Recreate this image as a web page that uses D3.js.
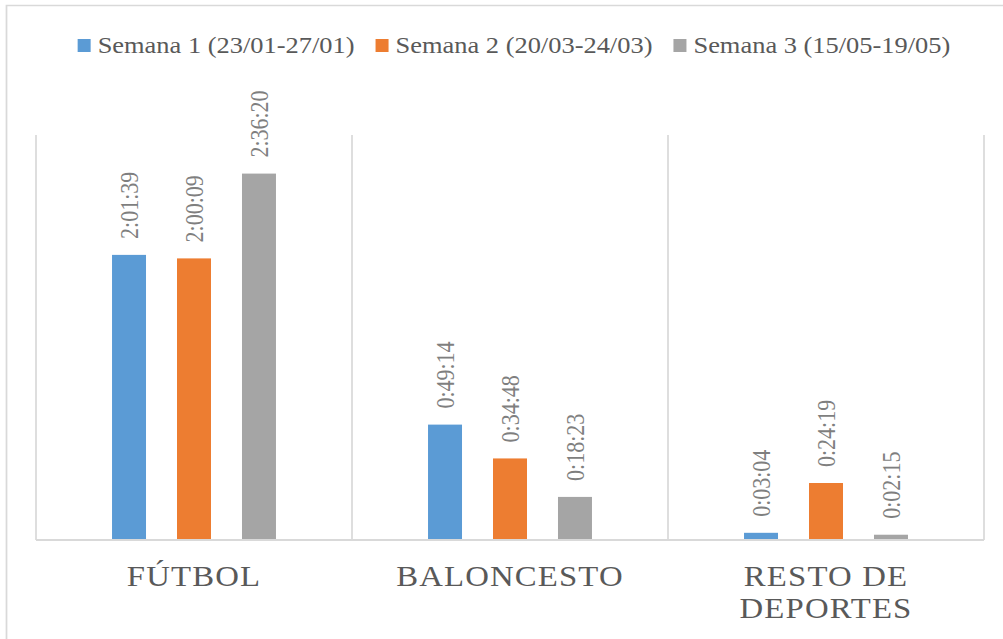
<!DOCTYPE html>
<html>
<head>
<meta charset="utf-8">
<script src="https://cdn.jsdelivr.net/npm/d3@7"></script>
<style>
  body { margin: 0; background: #fff; }
  svg { display: block; }
</style>
</head>
<body>
<svg id="chart"></svg>
<script>
let categories = ['FÚTBOL', 'BALONCESTO', 'RESTO DE\nDEPORTES']
let series = ['Semana 1 (23/01-27/01)', 'Semana 2 (20/03-24/03)', 'Semana 3 (15/05-19/05)']
let colors = ['#5b9bd5', '#ed7d31', '#a5a5a5']
let semana1 = ['2:01:39', '0:49:14', '0:03:04']
let semana2 = ['2:00:09', '0:34:48', '0:24:19']
let semana3 = ['2:36:20', '0:18:23', '0:02:15']
let yMax = 10368 // 0.12 dias, en segundos

let toSeconds = (t) => {
  let p = t.split(':').map(Number)
  return p[0] * 3600 + p[1] * 60 + p[2]
}

let times = [semana1, semana2, semana3]
let rows = []
categories.forEach((c, i) => {
  series.forEach((s, j) => {
    rows.push({cat: c, serie: s, idx: j, label: times[j][i], value: toSeconds(times[j][i])})
  })
})

let width = 1003
let height = 639
// the original picture is a bit stretched horizontally
let stretch = 1.15
let vbWidth = width / stretch
let font = 'Liberation Serif, Times New Roman, serif'

let plotLeft = 36 / stretch
let plotRight = 984 / stretch
let plotTop = 135
let plotBottom = 540

let svg = d3.select('#chart')
  .attr('width', width)
  .attr('height', height)
  .attr('viewBox', '0 0 ' + vbWidth + ' ' + height)
  .attr('preserveAspectRatio', 'none')

// frame
svg.append('rect')
   .attr('x', 6.5 / stretch)
   .attr('y', 5.5)
   .attr('width', vbWidth + 50)
   .attr('height', height + 50)
   .attr('fill', 'none')
   .attr('stroke', '#d9d9d9')
   .attr('stroke-width', 1.5)

let x0 = d3.scaleBand()
           .domain(categories)
           .range([plotLeft, plotRight])
           .padding(0)

let x1 = d3.scaleBand()
           .domain(series)
           .range([0, x0.bandwidth()])
           .paddingInner(0.477)
           .paddingOuter(1.17)

let y = d3.scaleLinear()
          .domain([0, yMax])
          .range([plotBottom, plotTop])

// separators between categories
let edges = categories.map((c) => x0(c)).concat([plotRight])
svg.selectAll('line.sep')
   .data(edges)
   .enter()
   .append('line')
   .attr('class', 'sep')
   .attr('x1', (d) => d)
   .attr('x2', (d) => d)
   .attr('y1', plotTop)
   .attr('y2', plotBottom)
   .attr('stroke', '#d9d9d9')
   .attr('stroke-width', 1.5)

svg.selectAll('rect.bar')
   .data(rows)
   .enter()
   .append('rect')
   .attr('class', 'bar')
   .attr('x', (d) => x0(d.cat) + x1(d.serie))
   .attr('width', x1.bandwidth())
   .attr('y', (d) => y(d.value))
   .attr('height', (d) => plotBottom - y(d.value))
   .attr('fill', (d) => colors[d.idx])

// baseline
svg.append('line')
   .attr('x1', plotLeft)
   .attr('x2', plotRight)
   .attr('y1', plotBottom)
   .attr('y2', plotBottom)
   .attr('stroke', '#d9d9d9')
   .attr('stroke-width', 2)

// data labels
svg.selectAll('text.val')
   .data(rows)
   .enter()
   .append('text')
   .attr('class', 'val')
   .attr('transform', (d) => {
     let cx = x0(d.cat) + x1(d.serie) + x1.bandwidth() / 2
     return 'translate(' + cx + ',' + (y(d.value) - 16) + ') rotate(-90)'
   })
   .attr('dy', '0.35em')
   .attr('text-anchor', 'start')
   .attr('font-family', font)
   .attr('font-size', 22)
   .attr('fill', '#7f7f7f')
   .text((d) => d.label)

// category labels
let catText = svg.selectAll('text.cat')
   .data(categories)
   .enter()
   .append('text')
   .attr('class', 'cat')
   .attr('text-anchor', 'middle')
   .attr('font-family', font)
   .attr('font-size', 28.5)
   .attr('letter-spacing', 1)
   .attr('fill', '#595959')

catText.selectAll('tspan')
   .data((d) => d.split('\n').map((t) => ({t: t, c: d})))
   .enter()
   .append('tspan')
   .attr('x', (d) => x0(d.c) + x0.bandwidth() / 2)
   .attr('y', (d, i) => 586 + i * 32)
   .text((d) => d.t)

// legend
let sq = 13
let legend = svg.append('g')
let items = legend.selectAll('g')
   .data(series)
   .enter()
   .append('g')

items.append('rect')
     .attr('width', sq / stretch)
     .attr('height', sq)
     .attr('y', 39)
     .attr('fill', (d, i) => colors[i])

items.append('text')
     .attr('x', (sq + 7) / stretch)
     .attr('y', 53)
     .attr('font-family', font)
     .attr('font-size', 23)
     .attr('fill', '#595959')
     .text((d) => d)

let pos = 0
let offsets = []
items.each(function () {
  offsets.push(pos)
  let w = (sq + 7) / stretch + d3.select(this).select('text').node().getComputedTextLength()
  pos += w + 21 / stretch
})
let total = pos - 21 / stretch
let start = 514 / stretch - total / 2
items.attr('transform', (d, i) => 'translate(' + (start + offsets[i]) + ',0)')
</script>
</body>
</html>
